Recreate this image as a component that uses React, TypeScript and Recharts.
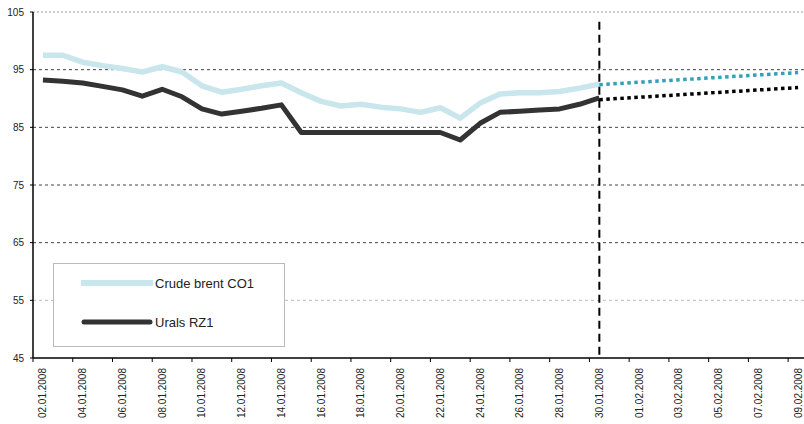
import { LineChart, Line, XAxis, YAxis, CartesianGrid, ReferenceLine } from "recharts";

// one category per calendar day, labels shown every second day
const dates = [
  "02.01.2008", "03.01.2008", "04.01.2008", "05.01.2008", "06.01.2008", "07.01.2008",
  "08.01.2008", "09.01.2008", "10.01.2008", "11.01.2008", "12.01.2008", "13.01.2008",
  "14.01.2008", "15.01.2008", "16.01.2008", "17.01.2008", "18.01.2008", "19.01.2008",
  "20.01.2008", "21.01.2008", "22.01.2008", "23.01.2008", "24.01.2008", "25.01.2008",
  "26.01.2008", "27.01.2008", "28.01.2008", "29.01.2008", "30.01.2008", "31.01.2008",
  "01.02.2008", "02.02.2008", "03.02.2008", "04.02.2008", "05.02.2008", "06.02.2008",
  "07.02.2008", "08.02.2008", "09.02.2008",
];

const brent = [
  97.5, 97.5, 96.3, 95.7, 95.2, 94.6, 95.5, 94.6, 92.2, 91.1, 91.6, 92.2, 92.7, 91.0,
  89.5, 88.7, 89.0, 88.5, 88.2, 87.6, 88.4, 86.6, 89.2, 90.8, 91.0, 91.0, 91.2, 91.8, 92.5,
];
const urals = [
  93.2, 93.0, 92.7, 92.1, 91.5, 90.4, 91.6, 90.3, 88.2, 87.3, 87.8, 88.3, 88.9, 84.1,
  84.1, 84.1, 84.1, 84.1, 84.1, 84.1, 84.1, 82.8, 85.7, 87.6, 87.8, 88.0, 88.2, 89.0, 90.1,
];

// forecast endpoints
const forecastDates = ["30.01.2008", "09.02.2008"];
const brentForecast = [92.4, 94.5];
const uralsForecast = [89.8, 91.9];

const yTicks = [45, 55, 65, 75, 85, 95, 105];
const splitDate = "30.01.2008";

const W = 804;
const H = 424;
const margin = { top: 12, right: -4, bottom: 0, left: 0 };
const yAxisWidth = 33;
const xAxisHeight = 66;
const band = (W - yAxisWidth - margin.left - margin.right) / dates.length;
const font = "'Liberation Sans', Arial, sans-serif";

const data = dates.map((d, i) => {
  const f = forecastDates.indexOf(d);
  return {
    i,
    date: d,
    brent: brent[i] ?? null,
    urals: urals[i] ?? null,
    brentFc: f >= 0 ? brentForecast[f] : null,
    uralsFc: f >= 0 ? uralsForecast[f] : null,
  };
});

const xTicks = dates.map((_, i) => i).filter((i) => i % 2 === 0);

function DateTick({ x, y, payload }: any) {
  return (
    <g>
      <line x1={x - band / 2} x2={x - band / 2} y1={y} y2={y + 4} stroke="#000" />
      <text
        transform={`translate(${x},${y + 10}) rotate(-90)`}
        textAnchor="end"
        dy="0.35em"
        fontSize={10}
        fontFamily={font}
        fill="#222"
      >
        {dates[payload.value]}
      </text>
    </g>
  );
}

function GridLine(p: any) {
  const val = Math.round(105 - ((p.y1 - p.y) / p.height) * 60);
  if (val === 45) return <g key={p.key} />;
  let stroke = "#444";
  let dash = "3 3";
  if (val === 55) stroke = "#bbb";
  if (val === 105) {
    stroke = "#999";
    dash = "2 2";
  }
  return (
    <line key={p.key} x1={p.x1} x2={p.x2} y1={p.y1} y2={p.y2} stroke={stroke} strokeDasharray={dash} />
  );
}

export default function App() {
  return (
    <div style={{ position: "absolute", left: 0, top: 0, width: W, height: H, background: "#fff" }}>
      <LineChart width={W} height={H} data={data} margin={margin}>
        <CartesianGrid vertical={false} horizontal={GridLine} />
        <XAxis
          dataKey="i"
          type="number"
          domain={[-0.5, dates.length - 0.5]}
          ticks={xTicks}
          interval={0}
          height={xAxisHeight}
          tickSize={0}
          tickMargin={0}
          tickLine={false}
          axisLine={{ stroke: "#000", strokeWidth: 1.5 }}
          tick={<DateTick />}
        />
        <YAxis
          domain={[45, 105]}
          ticks={yTicks}
          width={yAxisWidth}
          tickSize={3}
          tickMargin={6}
          interval={0}
          axisLine={{ stroke: "#000", strokeWidth: 1.5 }}
          tickLine={{ stroke: "#000" }}
          tick={{ fontSize: 10, fill: "#222", fontFamily: font }}
        />
        <Line
          dataKey="brent"
          stroke="#c8e6ec"
          strokeWidth={5.5}
          dot={false}
          isAnimationActive={false}
          strokeLinejoin="round"
        />
        <Line
          dataKey="urals"
          stroke="#333"
          strokeWidth={5}
          dot={false}
          isAnimationActive={false}
          strokeLinejoin="round"
        />
        <Line
          dataKey="brentFc"
          stroke="#31a0b8"
          strokeWidth={3.5}
          strokeDasharray="3.5 3.5"
          dot={false}
          connectNulls
          isAnimationActive={false}
        />
        <Line
          dataKey="uralsFc"
          stroke="#000"
          strokeWidth={3.5}
          strokeDasharray="3.5 3.5"
          dot={false}
          connectNulls
          isAnimationActive={false}
        />
        <ReferenceLine
          segment={[
            { x: dates.indexOf(splitDate), y: 103.3 },
            { x: dates.indexOf(splitDate), y: 45 },
          ]}
          stroke="#000"
          strokeWidth={2}
          strokeDasharray="8 5"
        />
      </LineChart>
      <div
        style={{
          position: "absolute",
          left: 53,
          top: 263,
          width: 232,
          height: 84,
          border: "1px solid #bbb",
          background: "#fff",
          boxSizing: "border-box",
        }}
      >
        <svg width={230} height={82} style={{ display: "block" }}>
          <line x1={27} x2={99} y1={19} y2={19} stroke="#c8e6ec" strokeWidth={6} />
          <text x={101} y={19} dy="0.35em" fontSize={13} fontFamily={font} fill="#222">
            Crude brent CO1
          </text>
          <line x1={30} x2={96} y1={58} y2={58} stroke="#333" strokeWidth={5} strokeLinecap="round" />
          <text x={101} y={58} dy="0.35em" fontSize={13} fontFamily={font} fill="#222">
            Urals RZ1
          </text>
        </svg>
      </div>
    </div>
  );
}
